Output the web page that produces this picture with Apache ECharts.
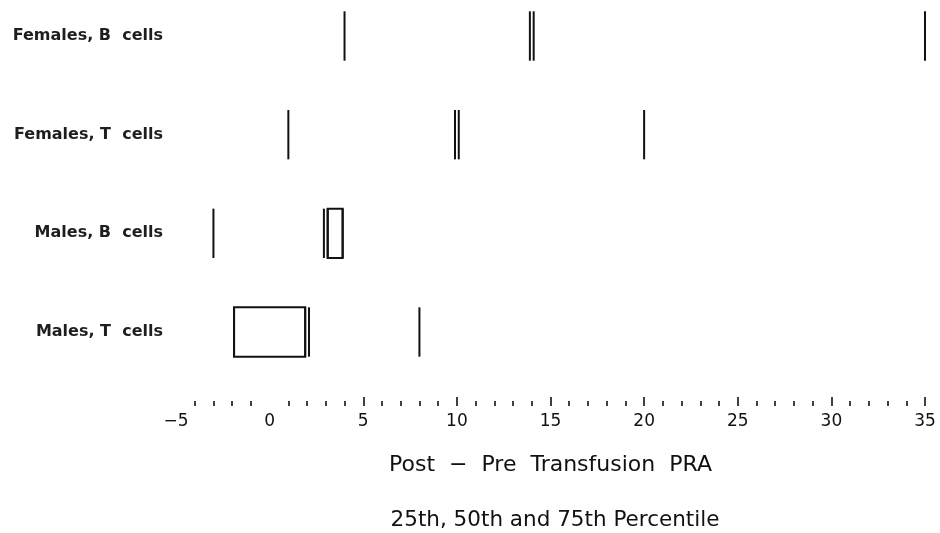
<!DOCTYPE html>
<html>
<head>
<meta charset="utf-8">
<style>
  html, body { margin: 0; padding: 0; background: #fff; }
  #chart { width: 940px; height: 533px; }
</style>
<script src="https://cdn.jsdelivr.net/npm/echarts@6/dist/echarts.min.js"></script>
</head>
<body>
<div id="chart"></div>
<script>
// Change in PRA after transfusion, by sex and cell type
const categories = ['Females, B  cells', 'Females, T  cells', 'Males, B  cells', 'Males, T  cells'];
const p25 = [4.0, 1.0, -3.0, -1.9];
const p50 = [14.0, 10.0, 3.0, 2.0];
const p75 = [35.0, 20.0, 3.9, 8.0];
// outlined segment drawn as an open rectangle (only where shown)
const boxLow = [null, null, 3.1, -1.9];
const boxHigh = [null, null, 3.9, 1.9];
const xTicks = [-5, 0, 5, 10, 15, 20, 25, 30, 35];

const FONT = 'DejaVu Sans';

const rows = categories.map((c, i) => [i, p25[i], p50[i], p75[i],
  boxLow[i] == null ? '-' : boxLow[i], boxHigh[i] == null ? '-' : boxHigh[i]]);

function renderItem(params, api) {
  const row = api.value(0);
  const half = api.size([0, 1])[1] * 0.25;
  const style = { stroke: '#111', lineWidth: 2, fill: null };
  const children = [];
  const vline = (x, dx) => {
    const p = api.coord([x, row]);
    children.push({
      type: 'line',
      shape: { x1: p[0] + dx, y1: p[1] - half, x2: p[0] + dx, y2: p[1] + half },
      style: style
    });
  };
  vline(api.value(1), 0);
  vline(api.value(3), 0);
  // median drawn as a double stroke
  vline(api.value(2), -1.9);
  vline(api.value(2), 1.9);
  const lo = api.value(4), hi = api.value(5);
  if (!isNaN(lo) && !isNaN(hi)) {
    const a = api.coord([lo, row]);
    const b = api.coord([hi, row]);
    children.push({
      type: 'rect',
      shape: { x: a[0], y: a[1] - half, width: b[0] - a[0], height: half * 2 },
      style: style
    });
  }
  return { type: 'group', children: children };
}

const chart = echarts.init(document.getElementById('chart'), null, { renderer: 'canvas' });
chart.setOption({
  backgroundColor: '#fff',
  animation: false,
  title: {
    text: '25th, 50th and 75th Percentile',
    left: 550,
    textAlign: 'center',
    top: 504,
    textStyle: { fontFamily: FONT, fontSize: 21.5, fontWeight: 'normal', color: '#111' }
  },
  grid: { left: 176, right: 15, top: 36, bottom: 201, containLabel: false },
  xAxis: {
    type: 'value',
    min: -5,
    max: 35,
    interval: 5,
    offset: 74,
    splitLine: { show: false },
    axisLine: { show: false },
    axisTick: {
      show: true, inside: true, length: 9,
      customValues: xTicks.filter(v => v > 0),
      lineStyle: { color: '#111', width: 1.6 }
    },
    minorTick: { show: true, splitNumber: 5, length: 5, lineStyle: { color: '#111', width: 1.6 } },
    axisLabel: {
      margin: 7,
      fontFamily: FONT, fontSize: 17, color: '#111',
      customValues: xTicks,
      formatter: v => (v < 0 ? '\u2212' + Math.abs(v) : String(v))
    },
    name: 'Post  \u2212  Pre  Transfusion  PRA',
    nameLocation: 'middle',
    nameGap: 48,
    nameTextStyle: { fontFamily: FONT, fontSize: 22, color: '#111' }
  },
  yAxis: {
    type: 'category',
    data: categories,
    inverse: true,
    boundaryGap: false,
    axisLine: { show: false },
    axisTick: { show: false },
    splitLine: { show: false },
    axisLabel: {
      margin: 13, fontFamily: FONT, fontSize: 16, fontWeight: 'bold', color: '#1e1e1e'
    }
  },
  series: [{
    type: 'custom',
    renderItem: renderItem,
    encode: { y: 0, x: [1, 2, 3, 4, 5] },
    data: rows
  }]
});
</script>
</body>
</html>
